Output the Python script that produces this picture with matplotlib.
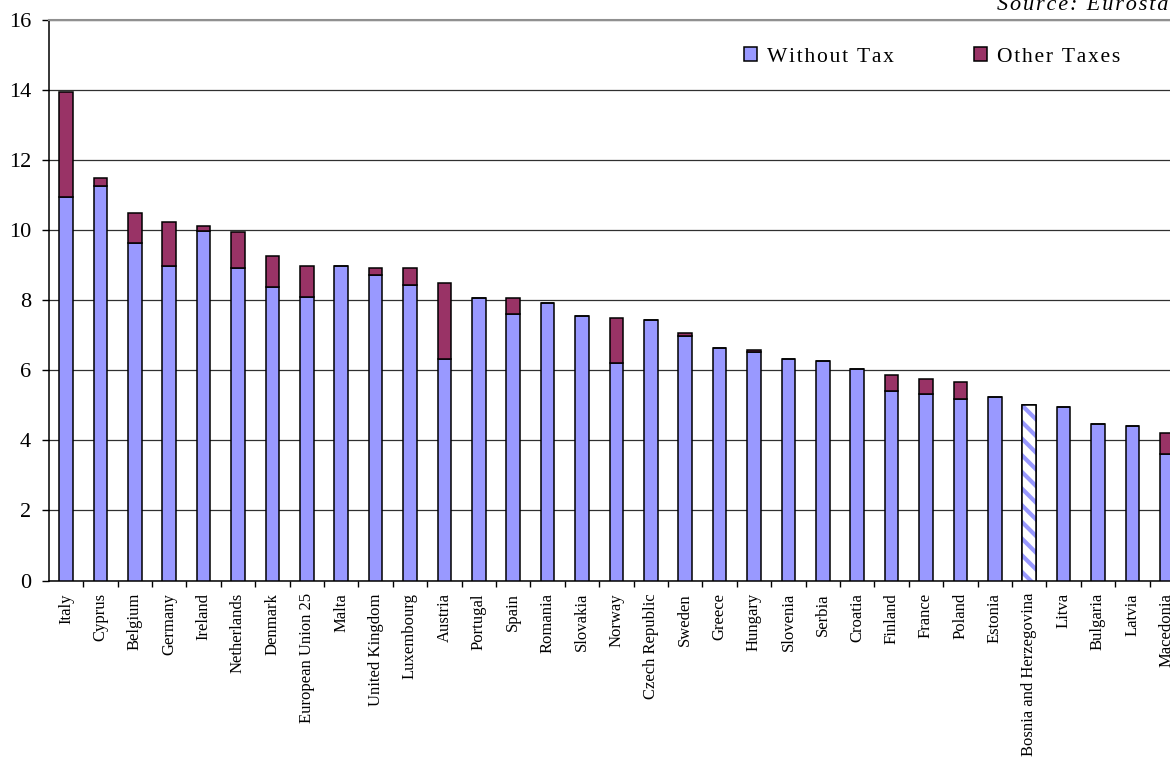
import matplotlib
matplotlib.use("Agg")
import numpy as np
import matplotlib.pyplot as plt
from matplotlib.patches import Patch

countries = ["Italy", "Cyprus", "Belgium", "Germany", "Ireland", "Netherlands",
             "Denmark", "European Union 25", "Malta", "United Kingdom",
             "Luxembourg", "Austria", "Portugal", "Spain", "Romania", "Slovakia",
             "Norway", "Czech Republic", "Sweden", "Greece", "Hungary",
             "Slovenia", "Serbia", "Croatia", "Finland", "France", "Poland",
             "Estonia", "Bosnia and Herzegovina", "Litva", "Bulgaria", "Latvia",
             "Macedonia"]
without_tax = [10.95, 11.25, 9.63, 8.97, 9.97, 8.91, 8.38, 8.09, 8.97, 8.71,
               8.43, 6.33, 8.05, 7.60, 7.92, 7.55, 6.22, 7.43, 6.99, 6.64,
               6.51, 6.33, 6.28, 6.04, 5.42, 5.31, 5.19, 5.25, 5.01, 4.95,
               4.48, 4.41, 3.62]
total = [13.95, 11.50, 10.49, 10.23, 10.11, 9.94, 9.27, 8.97, 8.97, 8.91,
         8.91, 8.50, 8.05, 8.05, 7.92, 7.55, 7.48, 7.43, 7.07, 6.64,
         6.58, 6.33, 6.28, 6.04, 5.86, 5.74, 5.67, 5.25, 5.01, 4.95,
         4.48, 4.41, 4.22]
hatched = "Bosnia and Herzegovina"

other_taxes = [t - w for t, w in zip(total, without_tax)]

BLUE = "#9999FF"
MAROON = "#993366"
FONT = ["Liberation Serif", "DejaVu Serif"]
HAIR = "\u200a"


def spaced(s):
    # old Excel export spreads letters a little
    return HAIR.join(s)


plt.rcParams["font.family"] = FONT
plt.rcParams["hatch.linewidth"] = 3.0

fig = plt.figure(figsize=(11.7, 7.6), dpi=100)
ax = fig.add_axes([49.3 / 1170, 1 - 580.5 / 760, 1 - 49.3 / 1170, (580.5 - 20) / 760])

x = np.arange(len(countries))
width = 0.4
blue_fc = [("white" if c == hatched else BLUE) for c in countries]

ax.bar(x, without_tax, width, color=blue_fc, edgecolor="black", linewidth=1.1, zorder=3)
ax.bar(x, other_taxes, width, bottom=without_tax, color=MAROON,
       edgecolor="black", linewidth=1.1, zorder=3)

# striped bar for Bosnia: hatch in blue, outline in black
i = countries.index(hatched)
ax.bar(x[i], without_tax[i], width, color="white", edgecolor=BLUE,
       hatch="\\\\", linewidth=0, zorder=4)
ax.bar(x[i], without_tax[i], width, fill=False, edgecolor="black",
       linewidth=1.1, zorder=5)

ax.set_yticks(range(0, 17, 2))
ax.yaxis.grid(True, color="#303030", linewidth=0.9, zorder=0)
ax.set_axisbelow(True)

ax.set_xticks(x)
ax.set_xticklabels(countries, rotation=90, fontsize=12, va="top", ha="center")
ax.set_xticks(np.arange(-0.5, len(countries), 1), minor=True)
ax.tick_params(axis="x", which="major", length=0, pad=9)
ax.tick_params(axis="x", which="minor", length=4, width=1, direction="out")
ax.tick_params(axis="y", labelsize=16, length=5, width=1, pad=8)

# limits after set_xticks, otherwise the minor ticks widen the view
slot = 34.4
left = -(66 - 49.3) / slot
ax.set_xlim(left, left + (1170 - 49.3) / slot)
ax.set_ylim(0, 16)

ax.spines["right"].set_visible(False)
ax.spines["top"].set_color("#909090")
ax.spines["top"].set_linewidth(1.5)
ax.spines["left"].set_linewidth(1.1)
ax.spines["bottom"].set_linewidth(1.1)

handles = [Patch(facecolor=BLUE, edgecolor="black", linewidth=1.1, label=spaced("Without Tax")),
           Patch(facecolor=MAROON, edgecolor="black", linewidth=1.1, label=spaced("Other Taxes"))]
fig.legend(handles=handles, loc="center left", bbox_to_anchor=(744 / 1170, 1 - 57 / 760),
           ncol=2, frameon=False, fontsize=15.5, handlelength=0.62, handleheight=0.62,
           handletextpad=0.45, columnspacing=3.7, borderpad=0, borderaxespad=0)

fig.text(997 / 1170, 1 - 10 / 760, spaced("Source: Eurostat"), fontsize=16, style="italic",
         ha="left", va="baseline")

fig.savefig("out.png", dpi=100)
